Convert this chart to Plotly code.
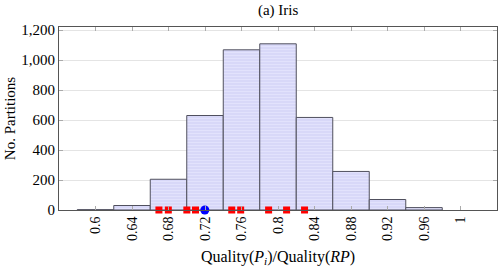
import plotly.graph_objects as go

# Histogram data
bin_centers = [0.60, 0.64, 0.68, 0.72, 0.76, 0.80, 0.84, 0.88, 0.92, 0.96]
counts = [2, 30, 205, 630, 1068, 1108, 617, 257, 70, 16]

# Marker positions (quality of individual partitions)
red_x = [0.6695, 0.6798, 0.7001, 0.7096, 0.7493, 0.7591, 0.7897, 0.8094, 0.8291]
red_y = [0, 0, 0, 0, 0, 0, 0, 0, 0]
blue_x = [0.7198]
blue_y = [0]

x_ticks = [0.6, 0.64, 0.68, 0.72, 0.76, 0.8, 0.84, 0.88, 0.92, 0.96, 1.0]
x_ticklabels = ["0.6", "0.64", "0.68", "0.72", "0.76", "0.8", "0.84", "0.88", "0.92", "0.96", "1"]
y_ticks = [0, 200, 400, 600, 800, 1000, 1200]

FONT = "Liberation Serif, DejaVu Serif, serif"

fig = go.Figure()
fig.add_trace(go.Bar(
    x=bin_centers, y=counts, width=0.04,
    marker=dict(
        color="#dcdcfa",
        line=dict(color="#50505e", width=1),
        pattern=dict(shape="-", fgcolor="#ececff", bgcolor="#d8d8f8", size=3, solidity=0.35),
    ),
    showlegend=False,
))
fig.add_trace(go.Scatter(
    x=red_x, y=red_y, mode="markers",
    marker=dict(symbol="square", color="#ff0000", size=7, line=dict(width=0)),
    cliponaxis=False, showlegend=False,
))
fig.add_trace(go.Scatter(
    x=blue_x, y=blue_y, mode="markers",
    marker=dict(symbol="circle", color="#0000ff", size=9, line=dict(width=0)),
    cliponaxis=False, showlegend=False,
))

fig.update_layout(
    width=498, height=267,
    margin=dict(l=59, r=1, t=27, b=57, autoexpand=False),
    paper_bgcolor="white", plot_bgcolor="white",
    font=dict(family=FONT, size=13, color="black"),
    title=dict(text="(a) Iris", x=0.5585, xanchor="center", y=0.962, yanchor="middle",
               font=dict(family=FONT, size=15)),
    bargap=0,
)
fig.update_xaxes(
    range=[0.56, 1.04], automargin=False,
    tickvals=x_ticks, ticktext=x_ticklabels, tickangle=-90,
    showline=True, linecolor="#555555", linewidth=1, mirror="ticks",
    ticks="inside", ticklen=4, tickcolor="#aaaaaa",
    showgrid=False, zeroline=False,
    tickfont=dict(family=FONT, size=14),
    title=dict(text="Quality(<i>P</i><sub><i>i</i></sub>)/Quality(<i>RP</i>)",
               font=dict(family=FONT, size=16), standoff=11),
)
fig.update_yaxes(
    range=[0, 1220], automargin=False,
    tickvals=y_ticks, tickformat=",d",
    showline=True, linecolor="#555555", linewidth=1, mirror="ticks",
    ticks="inside", ticklen=4, tickcolor="#aaaaaa",
    showgrid=True, gridcolor="#e4e4e4", gridwidth=1, zeroline=False,
    tickfont=dict(family=FONT, size=15),
    title=dict(text="No. Partitions", font=dict(family=FONT, size=15), standoff=2),
)

fig.write_html(
    "out.html",
    config={"displayModeBar": False, "staticPlot": True},
    post_script="document.body.style.margin='0';document.body.style.padding='0';document.body.style.overflow='hidden';",
)
